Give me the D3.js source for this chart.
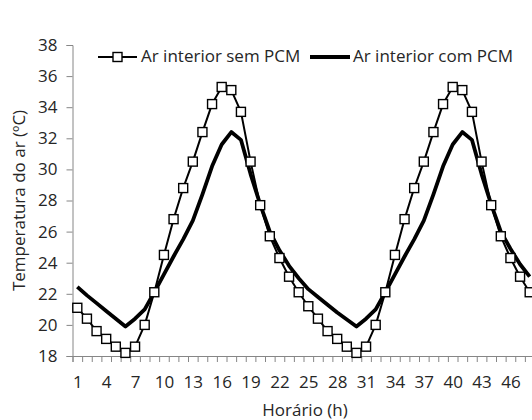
<!DOCTYPE html>
<html>
<head>
<meta charset="utf-8">
<script src="https://cdn.jsdelivr.net/npm/d3@7"></script>
<style>
  html, body { margin: 0; padding: 0; background: #fff; }
  svg { display: block; }
  text { font-family: "Open Sans", "Noto Sans", sans-serif; fill: #262626; }
</style>
</head>
<body>
<div id="chart"></div>
<script>
// ---- data ----
const hours = d3.range(1, 49);
const tickLabels = [1, 4, 7, 10, 13, 16, 19, 22, 25, 28, 31, 34, 37, 40, 43, 46];
const yTicks = [18, 20, 22, 24, 26, 28, 30, 32, 34, 36, 38];
const seriesNames = ["Ar interior sem PCM", "Ar interior com PCM"];
const semPCM = [
  21.1, 20.4, 19.6, 19.1, 18.6, 18.2, 18.6, 20.0, 22.1, 24.5, 26.8, 28.8,
  30.5, 32.4, 34.2, 35.3, 35.1, 33.7, 30.5, 27.7, 25.7, 24.3, 23.1, 22.1,
  21.2, 20.4, 19.6, 19.1, 18.6, 18.2, 18.6, 20.0, 22.1, 24.5, 26.8, 28.8,
  30.5, 32.4, 34.2, 35.3, 35.1, 33.7, 30.5, 27.7, 25.7, 24.3, 23.1, 22.1
];
const comPCM = [
  22.45, 21.9, 21.4, 20.9, 20.4, 19.9, 20.4, 21.0, 22.1, 23.25, 24.4, 25.5,
  26.7, 28.4, 30.2, 31.6, 32.4, 31.9, 29.7, 27.75, 26.0, 24.8, 23.8, 23.0,
  22.3, 21.8, 21.3, 20.8, 20.35, 19.9, 20.4, 21.0, 22.1, 23.25, 24.4, 25.5,
  26.7, 28.4, 30.2, 31.6, 32.4, 31.9, 29.7, 27.75, 26.0, 24.9, 23.9, 23.1
];

// ---- layout ----
const W = 532, H = 420;
const svg = d3.select("#chart").append("svg").attr("width", W).attr("height", H);

const x = d3.scaleLinear().domain([0.5, 48.5]).range([72.5, 534.5]);
const y = d3.scaleLinear().domain([18, 38]).range([356, 45]);
const axisColor = "#868686";
const fs = "17px";

// y axis
const yAxis = svg.append("g").attr("transform", `translate(${x(0.5)},0)`)
  .call(d3.axisLeft(y).tickValues(yTicks).tickSize(6).tickPadding(9).tickFormat(d3.format("d")));
yAxis.select(".domain").attr("stroke", axisColor);
yAxis.selectAll(".tick line").attr("stroke", axisColor);
yAxis.selectAll("text").style("font-size", fs).attr("fill", "#262626")
  .style("font-family", "'Open Sans', sans-serif");

// x axis: tick marks at category boundaries
const xTickMarks = svg.append("g").attr("transform", `translate(0,${y(18)})`)
  .call(d3.axisBottom(x).tickValues(d3.range(0.5, 49, 1)).tickSize(6).tickFormat(""));
xTickMarks.select(".domain").attr("stroke", axisColor);
xTickMarks.selectAll(".tick line").attr("stroke", axisColor);

// x axis labels at category centres
const xLabels = svg.append("g").attr("transform", `translate(0,${y(18)})`)
  .call(d3.axisBottom(x).tickValues(tickLabels).tickSize(0).tickPadding(20).tickFormat(d3.format("d")));
xLabels.select(".domain").remove();
xLabels.selectAll("text").style("font-size", fs).attr("fill", "#262626")
  .style("font-family", "'Open Sans', sans-serif");

// axis titles
svg.append("text")
  .attr("transform", `translate(20,${(y(18) + y(38)) / 2}) rotate(-90)`)
  .attr("text-anchor", "middle").attr("dominant-baseline", "middle")
  .style("font-size", fs).text("Temperatura do ar (ºC)");
svg.append("text")
  .attr("x", 305).attr("y", 411).attr("text-anchor", "middle").attr("dominant-baseline", "middle")
  .style("font-size", fs).text("Horário (h)");

// lines
const line = d3.line().x((d, i) => x(hours[i])).y(d => y(d));
svg.append("path").datum(comPCM).attr("d", line)
  .attr("fill", "none").attr("stroke", "#000").attr("stroke-width", 3.8).attr("stroke-linejoin", "round");
svg.append("path").datum(semPCM).attr("d", line)
  .attr("fill", "none").attr("stroke", "#000").attr("stroke-width", 2).attr("stroke-linejoin", "round");

const ms = 9;
svg.append("g").selectAll("rect").data(semPCM).join("rect")
  .attr("x", (d, i) => x(hours[i]) - ms / 2)
  .attr("y", d => y(d) - ms / 2)
  .attr("width", ms).attr("height", ms)
  .attr("fill", "#fff").attr("stroke", "#000").attr("stroke-width", 1.4);

// legend
const legY = 57;
const leg = svg.append("g");
leg.append("line").attr("x1", 98).attr("x2", 137).attr("y1", legY).attr("y2", legY)
  .attr("stroke", "#000").attr("stroke-width", 2);
leg.append("rect").attr("x", 117.5 - ms / 2).attr("y", legY - ms / 2).attr("width", ms).attr("height", ms)
  .attr("fill", "#fff").attr("stroke", "#000").attr("stroke-width", 1.4);
leg.append("text").attr("x", 141).attr("y", legY).attr("dominant-baseline", "middle")
  .style("font-size", fs).text(seriesNames[0]);
leg.append("line").attr("x1", 310).attr("x2", 350).attr("y1", legY).attr("y2", legY)
  .attr("stroke", "#000").attr("stroke-width", 3.8);
leg.append("text").attr("x", 353).attr("y", legY).attr("dominant-baseline", "middle")
  .style("font-size", fs).text(seriesNames[1]);
</script>
</body>
</html>
